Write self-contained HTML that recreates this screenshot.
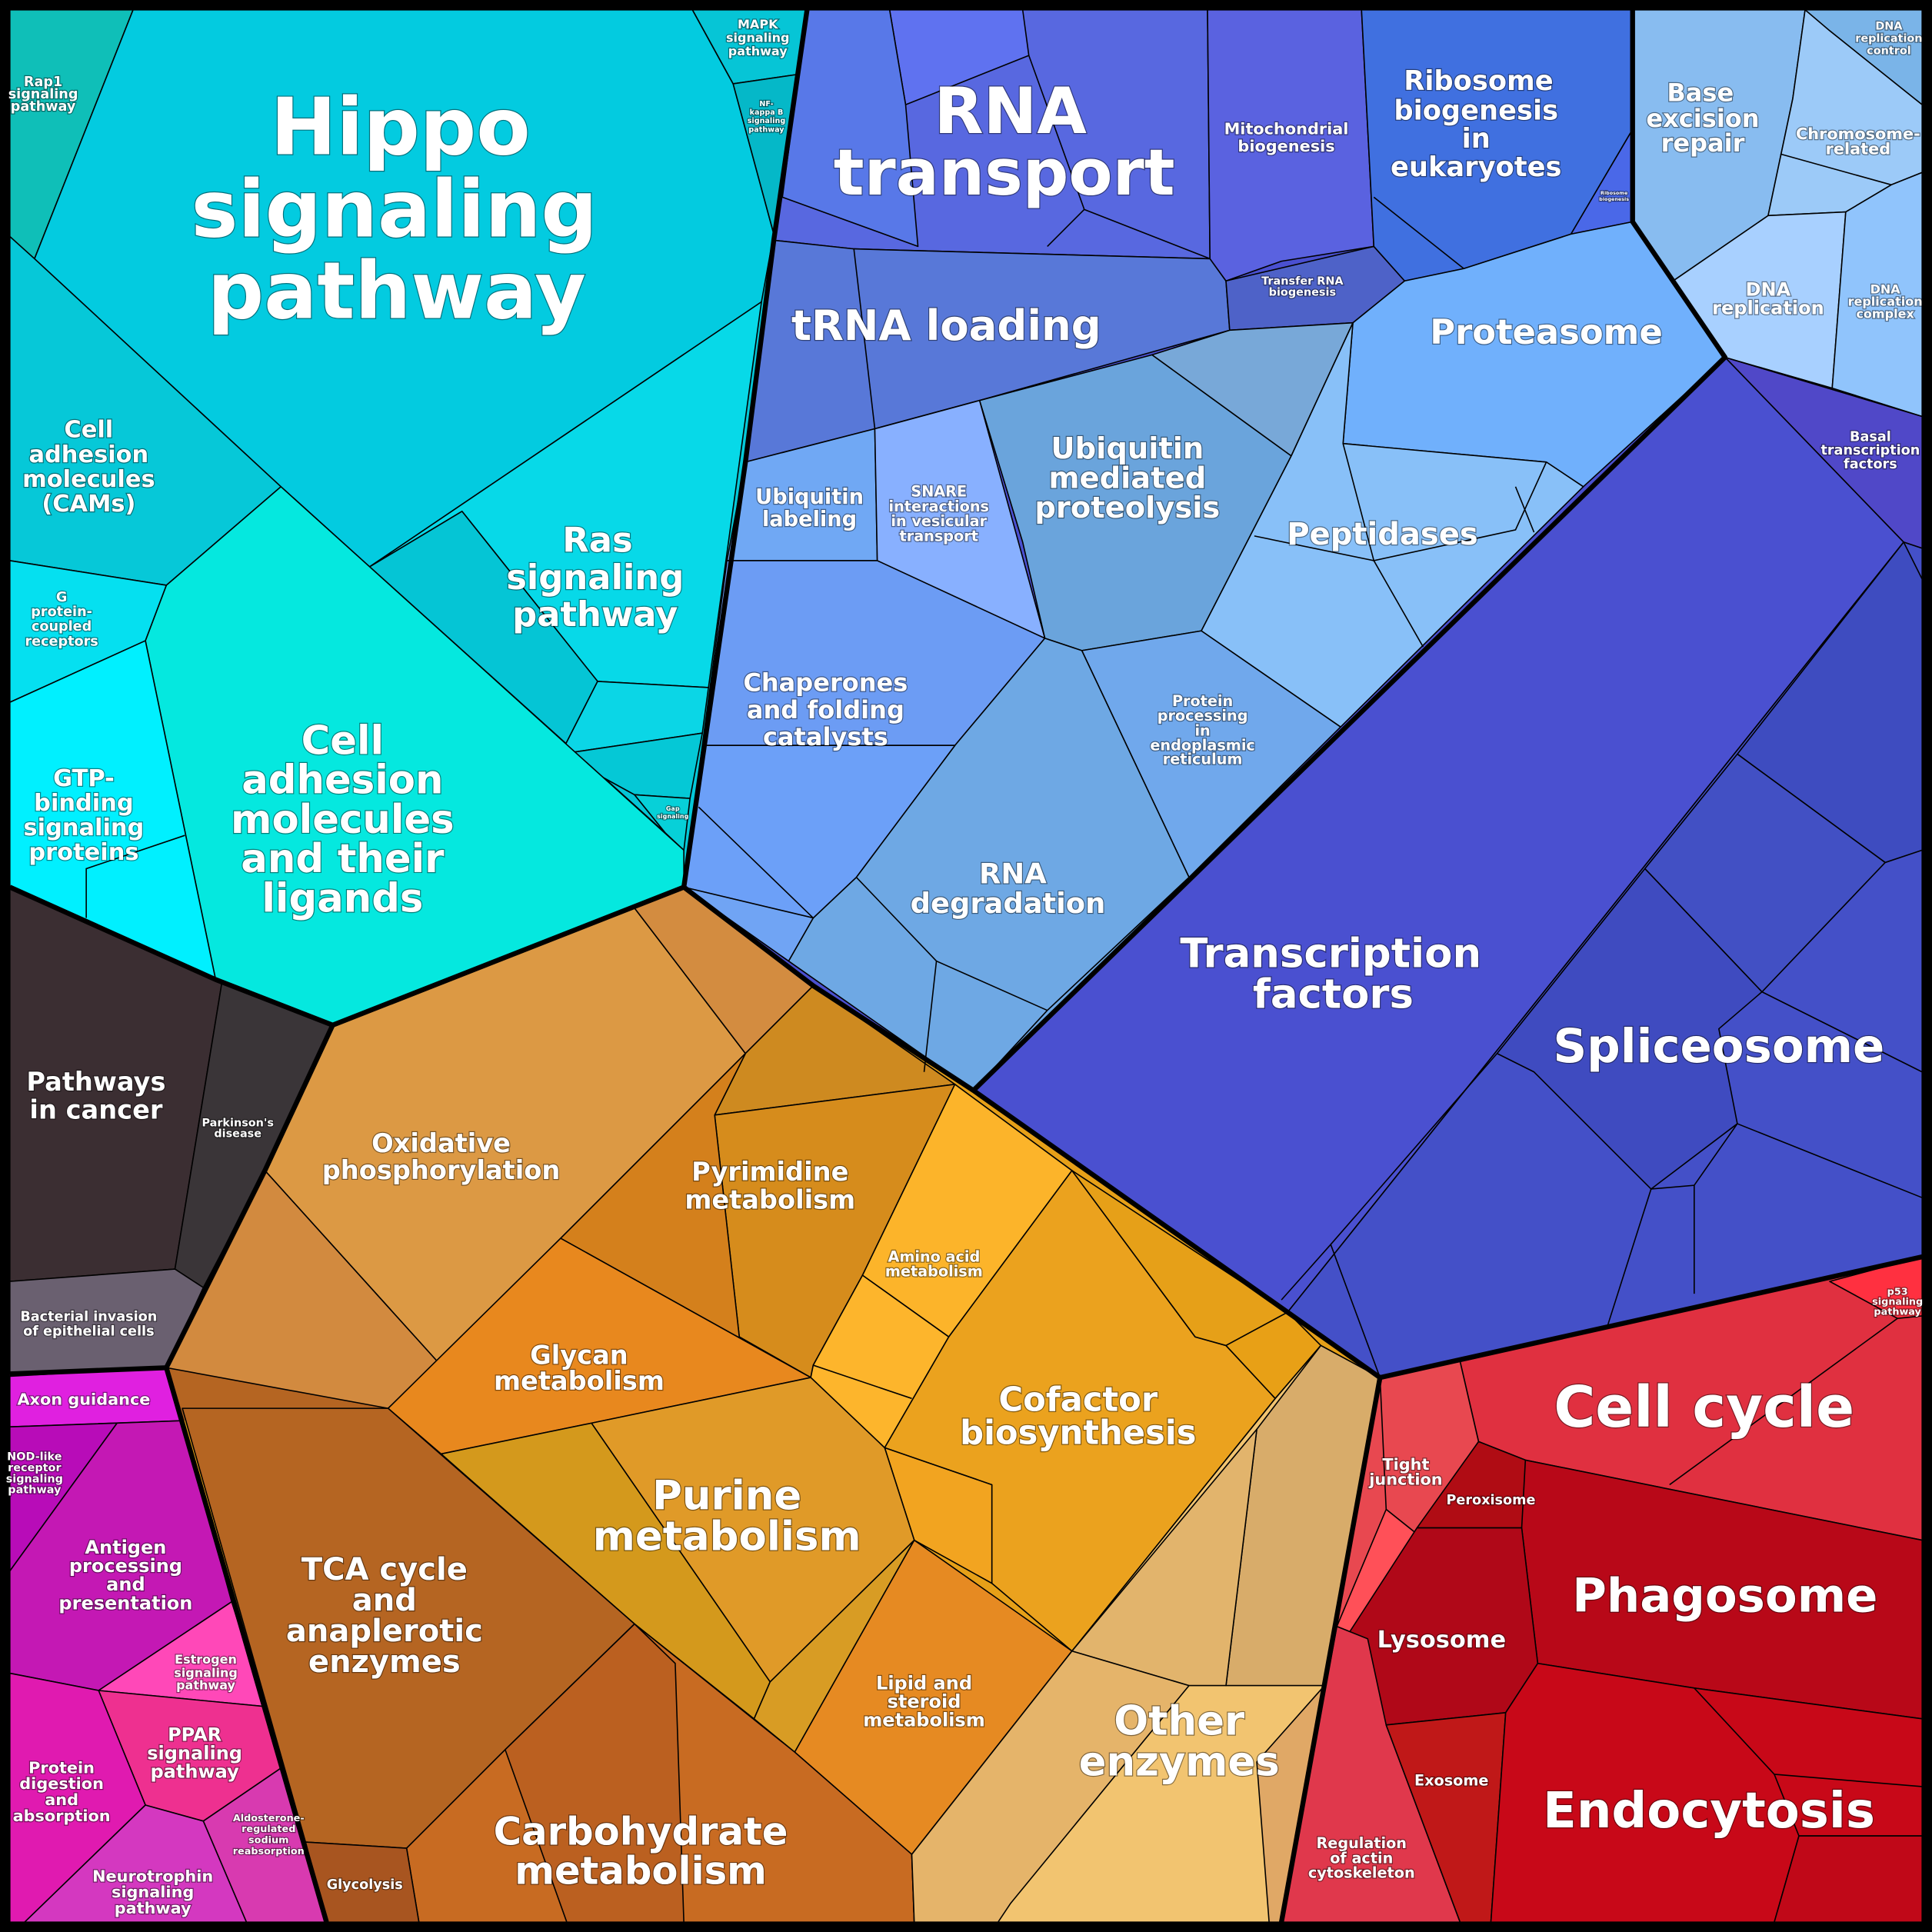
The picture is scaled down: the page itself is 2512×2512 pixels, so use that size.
<!DOCTYPE html>
<html><head><meta charset="utf-8"><style>
html,body{margin:0;padding:0;background:#000;}
svg{display:block;}
text{font-family:"DejaVu Sans","Liberation Sans",sans-serif;font-weight:bold;fill:#fff;text-anchor:middle;paint-order:stroke;stroke:rgba(0,0,0,0.45);stroke-width:1.5px;}
.c{stroke:#000;stroke-width:1;stroke-linejoin:round;}
.l{stroke:#000;stroke-width:1;fill:none;}
.g{fill:none;stroke:#000;stroke-width:4;stroke-linejoin:round;}
</style></head><body>
<svg width="2512" height="2512" viewBox="0 0 1568 1568" xmlns="http://www.w3.org/2000/svg">
<rect x="0" y="0" width="1568" height="1568" fill="#000"/>
<!-- group underlays -->
<polygon fill="#05c8d8" points="8,8 655,8 628,195 605,375 555,720 270,832 175,795 8,720"/>
<polygon fill="#4a50d0" points="655,8 1560,8 1560,1020 1120,1118 1045,1065 790,885 660,800 555,720 605,375 628,195"/>
<polygon fill="#e6a018" points="270,832 555,720 660,800 790,885 1045,1065 1120,1118 1040,1560 265,1560 135,1110 215,950"/>
<polygon fill="#e84850" points="1120,1118 1560,1020 1560,1560 1040,1560"/>
<polygon fill="#3b2e32" points="8,720 175,795 270,832 215,950 135,1110 8,1115"/>
<polygon fill="#c418b4" points="8,1115 135,1110 265,1560 8,1560"/>
<polygon fill="#b56522" points="135,1110 315,1143 148,1153"/>
<polygon fill="#90c4fc" points="1325,180 1355,230 1400,290"/>
<polygon fill="#6ea8e4" points="965,712 850,820 790,885"/>
<!-- CYAN -->
<polygon class="c" fill="#0fbfb8" points="8,8 108,8 28,210 8,192"/>
<polygon class="c" fill="#03cbe0" points="108,8 562,8 595,68 628,190 618,245 300,460 228,395 28,210"/>
<polygon class="c" fill="#06c5d6" points="562,8 655,8 650,60 595,68"/>
<polygon class="c" fill="#05b8c8" points="595,68 650,60 628,190"/>
<polygon class="c" fill="#06c8d8" points="8,192 28,210 228,395 135,475 8,455"/>
<polygon class="c" fill="#07d9e8" points="618,245 575,558 485,553 375,415 300,460"/>
<polygon class="c" fill="#05c5d5" points="300,460 375,415 485,553 455,612 515,645 540,676"/>
<polygon class="c" fill="#0bd6e6" points="485,553 575,558 570,595 455,612"/>
<polygon class="c" fill="#05c8d6" points="455,612 570,595 560,648 515,645"/>
<polygon class="c" fill="#07d0d8" points="515,645 560,648 555,690 540,676"/>
<polygon class="c" fill="#05e8df" points="228,395 300,460 555,690 555,720 270,832 175,795 118,520 135,475"/>
<polygon class="c" fill="#05e0f0" points="8,455 135,475 118,520 8,570"/>
<polygon class="c" fill="#00f0ff" points="8,570 118,520 175,795 8,720"/>
<polyline class="l" points="70,745 70,705 150,678"/>
<!-- DARK -->
<polygon class="c" fill="#3b2e32" points="8,720 180,798 142,1030 8,1040"/>
<polygon class="c" fill="#3a3538" points="180,798 270,832 215,950 165,1045 142,1030"/>
<polygon class="c" fill="#6a6070" points="8,1040 142,1030 165,1045 135,1110 8,1115"/>
<!-- MAGENTA -->
<polygon class="c" fill="#e020e0" points="8,1117 135,1110 148,1153 8,1158"/>
<polygon class="c" fill="#b80cb8" points="8,1158 95,1155 8,1275"/>
<polygon class="c" fill="#c418b4" points="95,1155 148,1153 188,1300 80,1372 8,1358 8,1275"/>
<polygon class="c" fill="#ff48b8" points="188,1300 215,1385 80,1372"/>
<polygon class="c" fill="#ee3090" points="80,1372 215,1385 228,1435 165,1478 118,1465"/>
<polygon class="c" fill="#d83ab0" points="165,1478 228,1435 265,1560 200,1560"/>
<polygon class="c" fill="#e01ab0" points="8,1358 80,1372 118,1465 20,1560 8,1560"/>
<polygon class="c" fill="#d438c0" points="118,1465 165,1478 200,1560 20,1560"/>
<!-- ORANGE -->
<polygon class="c" fill="#dc9944" points="270,832 515,737 605,855 455,1005 355,1105 215,950"/>
<polygon class="c" fill="#d28a3f" points="215,950 355,1105 315,1143 135,1110"/>
<polygon class="c" fill="#d38c40" points="515,737 555,720 660,800 605,855"/>
<polygon class="c" fill="#ce8a20" points="605,855 660,800 775,880 580,905"/>
<polygon class="c" fill="#d68c1c" points="580,905 775,880 700,1035 660,1108 658,1118 600,1085"/>
<polygon class="c" fill="#d4801c" points="455,1005 605,855 580,905 600,1085 658,1118"/>
<polygon class="c" fill="#e8881e" points="455,1005 658,1118 480,1155 358,1180 315,1143"/>
<polygon class="c" fill="#fcb42a" points="775,880 870,950 770,1085 700,1035"/>
<polygon class="c" fill="#fdb52c" points="700,1035 770,1085 718,1175 658,1118 660,1108"/>
<polyline class="l" points="660,1108 740,1135"/>
<polygon class="c" fill="#eba21e" points="870,950 970,1085 995,1092 1035,1135 870,1340 805,1285 805,1205 718,1175 770,1085"/>
<polygon class="c" fill="#e6a018" points="870,950 1045,1065 995,1092 970,1085"/>
<polygon class="c" fill="#e8a016" points="995,1092 1045,1065 1072,1092 1035,1135"/>
<polygon class="c" fill="#f2a420" points="718,1175 805,1205 805,1285 742,1250"/>
<polygon class="c" fill="#e09a28" points="480,1155 658,1118 718,1175 742,1250 625,1365"/>
<polygon class="c" fill="#d4991c" points="358,1180 480,1155 625,1365 612,1395 515,1318"/>
<polygon class="c" fill="#d89c24" points="625,1365 742,1250 645,1422 612,1395"/>
<polygon class="c" fill="#e68a22" points="742,1250 870,1340 740,1505 645,1422"/>
<polygon class="c" fill="#b56522" points="148,1143 315,1143 515,1318 410,1420 330,1500 248,1495"/>
<polygon class="c" fill="#c86b22" points="515,1318 645,1422 740,1505 742,1560 340,1560 330,1500 410,1420"/>
<polygon class="c" fill="#bb6020" points="515,1318 548,1350 555,1560 460,1560 410,1420"/>
<polygon class="c" fill="#a85520" points="248,1495 330,1500 340,1560 265,1560"/>
<polygon class="c" fill="#f2c470" points="1072,1092 1120,1118 1040,1560 742,1560 740,1505 870,1340 1035,1135"/>
<polygon class="c" fill="#d8ac6a" points="1020,1160 1072,1092 1120,1118 1075,1368 995,1368"/>
<polygon class="c" fill="#e2b46c" points="870,1340 1020,1160 995,1368 965,1368"/>
<polygon class="c" fill="#e0a866" points="1020,1430 1075,1368 1040,1560 1030,1560"/>
<polygon class="c" fill="#e5b46a" points="740,1505 870,1340 965,1368 820,1545 810,1560 742,1560"/>
<!-- BLUE -->
<polygon class="c" fill="#5868e0" points="655,8 980,8 982,210 693,202 628,195"/>
<polygon class="c" fill="#5f72f0" points="722,8 830,8 835,45 735,85"/>
<polygon class="c" fill="#5878e8" points="655,8 722,8 735,85 745,200 635,160"/>
<polyline class="l" points="835,45 880,170 982,210"/>
<polyline class="l" points="880,170 850,200"/>
<polygon class="c" fill="#5878d8" points="628,195 693,202 982,210 995,228 998,268 795,325 710,348 605,375"/>
<line class="l" x1="693" y1="202" x2="710" y2="348"/>
<polygon class="c" fill="#5a62e0" points="980,8 1105,8 1115,200 1040,212 995,228 982,210"/>
<polygon class="c" fill="#4e62c8" points="995,228 1115,200 1140,228 1098,262 998,268"/>
<polygon class="c" fill="#4070e0" points="1105,8 1325,8 1325,105 1275,190 1188,218 1140,228 1115,200"/>
<polyline class="l" points="1115,160 1188,218"/>
<polygon class="c" fill="#4a68e8" points="1325,105 1325,180 1275,190"/>
<polygon class="c" fill="#88bcf0" points="1325,8 1465,8 1455,80 1435,175 1355,230 1325,180"/>
<polygon class="c" fill="#7ab4e8" points="1465,8 1560,8 1560,85 1485,25"/>
<polygon class="c" fill="#9ccaf8" points="1465,8 1485,25 1560,85 1560,140 1535,150 1498,172 1435,175 1455,80"/>
<polyline class="l" points="1445,125 1535,150"/>
<polygon class="c" fill="#a8d0ff" points="1355,230 1435,175 1498,172 1487,315 1400,290"/>
<polygon class="c" fill="#90c4fc" points="1498,172 1535,150 1560,140 1560,338 1487,315"/>
<polygon class="c" fill="#70b0fc" points="1098,262 1140,228 1188,218 1275,190 1325,180 1400,290 1285,395 1255,375 1090,360"/>
<polygon class="c" fill="#5048c8" points="1400,290 1560,338 1560,445 1545,440"/>
<polygon class="c" fill="#4a50d0" points="790,885 1400,290 1545,440 1045,1065"/>
<polygon class="c" fill="#4450c8" points="1045,1065 1545,440 1560,445 1560,1020 1120,1118"/>
<polygon class="c" fill="#3e4cc0" points="1410,612 1530,700 1560,690 1560,470 1545,440"/>
<polygon class="c" fill="#4250c4" points="1335,705 1410,612 1530,700 1430,805"/>
<polygon class="c" fill="#3f4bc0" points="1215,855 1335,705 1430,805 1395,835 1410,912 1340,965 1245,870"/>
<polyline class="l" points="1430,805 1560,870"/>
<polyline class="l" points="1410,912 1560,972"/>
<polyline class="l" points="1340,965 1305,1075"/>
<polyline class="l" points="1375,962 1375,1050"/>
<polyline class="l" points="1340,965 1375,962 1410,912"/>
<polyline class="l" points="1040,1055 1080,1010 1120,1118"/>
<polyline class="l" points="1080,1010 1215,855"/>
<polygon class="c" fill="#6aa4dc" points="795,325 935,288 1048,370 975,512 878,528 848,518 830,440"/>
<polygon class="c" fill="#78a8d8" points="935,288 998,268 1098,262 1048,370"/>
<polygon class="c" fill="#88c0f8" points="1098,262 1090,360 1255,375 1285,395 1088,590 975,512 1048,370"/>
<polyline class="l" points="1090,360 1115,455 1230,430 1255,375"/>
<polyline class="l" points="1115,455 1155,525"/>
<polyline class="l" points="1115,455 1018,435"/>
<polyline class="l" points="1230,395 1245,432"/>
<polygon class="c" fill="#70a8ec" points="878,528 975,512 1088,590 965,712"/>
<polygon class="c" fill="#70a8f4" points="605,375 710,348 712,455 590,455"/>
<polygon class="c" fill="#88b0ff" points="710,348 795,325 848,518 760,480 712,455"/>
<polygon class="c" fill="#6c9cf4" points="590,455 712,455 848,518 775,605 570,605"/>
<polygon class="c" fill="#6ea8e4" points="848,518 878,528 965,712 850,820 790,885 640,780 660,745 695,712 775,605"/>
<polyline class="l" points="695,712 760,780 850,820"/>
<polyline class="l" points="760,780 750,870"/>
<polygon class="c" fill="#6ca0f8" points="570,605 775,605 695,712 660,745 555,720"/>
<polyline class="l" points="567,655 660,745"/>
<polygon class="c" fill="#70a4f4" points="555,720 660,745 640,780"/>
<!-- RED -->
<polygon class="c" fill="#e03040" points="1185,1105 1560,1020 1560,1250 1238,1185 1200,1170"/>
<polyline class="l" points="1355,1205 1540,1070"/>
<polygon class="c" fill="#ff3040" points="1485,1040 1560,1020 1560,1068 1540,1070"/>
<polygon class="c" fill="#e84850" points="1120,1118 1185,1105 1200,1170 1150,1245 1125,1225"/>
<polygon class="c" fill="#ff5058" points="1125,1225 1150,1245 1110,1330 1085,1320"/>
<polygon class="c" fill="#b00c14" points="1200,1170 1238,1185 1245,1215 1235,1240 1150,1240"/>
<polygon class="c" fill="#b80818" points="1238,1185 1560,1250 1560,1395 1375,1370 1248,1350 1235,1240"/>
<polygon class="c" fill="#b00818" points="1150,1240 1235,1240 1248,1350 1222,1390 1125,1400 1095,1325"/>
<polygon class="c" fill="#e0384c" points="1085,1320 1110,1330 1125,1400 1185,1560 1040,1560"/>
<polygon class="c" fill="#c01818" points="1125,1400 1222,1390 1210,1560 1185,1560"/>
<polygon class="c" fill="#c80818" points="1222,1390 1248,1350 1375,1370 1560,1395 1560,1490 1460,1490 1440,1560 1210,1560"/>
<polyline class="l" points="1375,1370 1440,1440 1560,1450"/>
<polyline class="l" points="1440,1440 1460,1490"/>
<polygon class="c" fill="#c00818" points="1460,1490 1560,1490 1560,1560 1440,1560"/>
<!-- GROUP BORDERS -->
<polyline class="g" points="655,8 628,195 605,375 555,720 270,832 175,795 8,720"/>
<polyline class="g" points="555,720 660,800 790,885 1045,1065 1120,1118 1560,1020"/>
<polyline class="g" points="1120,1118 1040,1560"/>
<polyline class="g" points="270,832 215,950 135,1110 8,1115"/>
<polyline class="g" points="135,1110 265,1560"/>
<polyline class="g" points="790,885 1400,290 1325,180 1325,8"/>
<rect x="4" y="4" width="1560" height="1560" fill="none" stroke="#000" stroke-width="8"/>
<!-- LABELS -->
<g font-size="64"><text x="325" y="125">Hippo</text><text x="320" y="192">signaling</text><text x="322" y="258">pathway</text></g>
<g font-size="11"><text x="35" y="70">Rap1</text><text x="35" y="80">signaling</text><text x="35" y="90">pathway</text></g>
<g font-size="10"><text x="615" y="23">MAPK</text><text x="615" y="34">signaling</text><text x="615" y="45">pathway</text></g>
<g font-size="6"><text x="622" y="86">NF-</text><text x="622" y="93">kappa B</text><text x="622" y="100">signaling</text><text x="622" y="107">pathway</text></g>
<g font-size="19"><text x="72" y="355">Cell</text><text x="72" y="375">adhesion</text><text x="72" y="395">molecules</text><text x="72" y="415">(CAMs)</text></g>
<g font-size="28"><text x="485" y="448">Ras</text><text x="483" y="478">signaling</text><text x="483" y="508">pathway</text></g>
<g font-size="11"><text x="50" y="488">G</text><text x="50" y="500">protein-</text><text x="50" y="512">coupled</text><text x="50" y="524">receptors</text></g>
<g font-size="19"><text x="68" y="638">GTP-</text><text x="68" y="658">binding</text><text x="68" y="678">signaling</text><text x="68" y="698">proteins</text></g>
<g font-size="32"><text x="278" y="612">Cell</text><text x="278" y="644">adhesion</text><text x="278" y="676">molecules</text><text x="278" y="708">and their</text><text x="278" y="740">ligands</text></g>
<g font-size="5"><text x="546" y="658">Gap</text><text x="546" y="664">signaling</text></g>
<g font-size="21"><text x="78" y="885">Pathways</text><text x="78" y="908">in cancer</text></g>
<g font-size="9"><text x="193" y="914">Parkinson's</text><text x="193" y="923">disease</text></g>
<g font-size="11"><text x="72" y="1072">Bacterial invasion</text><text x="72" y="1084">of epithelial cells</text></g>
<text x="68" y="1140" font-size="13">Axon guidance</text>
<g font-size="9"><text x="28" y="1185">NOD-like</text><text x="28" y="1194">receptor</text><text x="28" y="1203">signaling</text><text x="28" y="1212">pathway</text></g>
<g font-size="15"><text x="102" y="1261">Antigen</text><text x="102" y="1276">processing</text><text x="102" y="1291">and</text><text x="102" y="1306">presentation</text></g>
<g font-size="10"><text x="167" y="1350">Estrogen</text><text x="167" y="1361">signaling</text><text x="167" y="1371">pathway</text></g>
<g font-size="15"><text x="158" y="1413">PPAR</text><text x="158" y="1428">signaling</text><text x="158" y="1443">pathway</text></g>
<g font-size="8"><text x="218" y="1478">Aldosterone-</text><text x="218" y="1487">regulated</text><text x="218" y="1496">sodium</text><text x="218" y="1505">reabsorption</text></g>
<g font-size="13"><text x="50" y="1439">Protein</text><text x="50" y="1452">digestion</text><text x="50" y="1465">and</text><text x="50" y="1478">absorption</text></g>
<g font-size="13"><text x="124" y="1527">Neurotrophin</text><text x="124" y="1540">signaling</text><text x="124" y="1553">pathway</text></g>
<g font-size="21"><text x="358" y="935">Oxidative</text><text x="358" y="957">phosphorylation</text></g>
<g font-size="21"><text x="625" y="958">Pyrimidine</text><text x="625" y="981">metabolism</text></g>
<g font-size="12"><text x="758" y="1024">Amino acid</text><text x="758" y="1036">metabolism</text></g>
<g font-size="21"><text x="470" y="1107">Glycan</text><text x="470" y="1128">metabolism</text></g>
<g font-size="27"><text x="875" y="1145">Cofactor</text><text x="875" y="1172">biosynthesis</text></g>
<g font-size="33"><text x="590" y="1225">Purine</text><text x="590" y="1258">metabolism</text></g>
<g font-size="25"><text x="312" y="1282">TCA cycle</text><text x="312" y="1307">and</text><text x="312" y="1332">anaplerotic</text><text x="312" y="1357">enzymes</text></g>
<g font-size="15"><text x="750" y="1371">Lipid and</text><text x="750" y="1386">steroid</text><text x="750" y="1401">metabolism</text></g>
<g font-size="33"><text x="957" y="1408">Other</text><text x="957" y="1441">enzymes</text></g>
<g font-size="31"><text x="520" y="1497">Carbohydrate</text><text x="520" y="1529">metabolism</text></g>
<text x="296" y="1533" font-size="11">Glycolysis</text>
<g font-size="52"><text x="820" y="108">RNA</text><text x="815" y="158">transport</text></g>
<g font-size="13"><text x="1044" y="109">Mitochondrial</text><text x="1044" y="123">biogenesis</text></g>
<g font-size="22"><text x="1200" y="73">Ribosome</text><text x="1198" y="97">biogenesis</text><text x="1198" y="120">in</text><text x="1198" y="143">eukaryotes</text></g>
<g font-size="4"><text x="1310" y="158">Ribosome</text><text x="1310" y="163">biogenesis</text></g>
<g font-size="9"><text x="1057" y="231">Transfer RNA</text><text x="1057" y="240">biogenesis</text></g>
<g font-size="20"><text x="1380" y="82">Base</text><text x="1382" y="103">excision</text><text x="1382" y="123">repair</text></g>
<g font-size="9"><text x="1533" y="24">DNA</text><text x="1533" y="34">replication</text><text x="1533" y="44">control</text></g>
<g font-size="13"><text x="1508" y="113">Chromosome-</text><text x="1508" y="125">related</text></g>
<g font-size="15"><text x="1435" y="240">DNA</text><text x="1435" y="255">replication</text></g>
<g font-size="10"><text x="1530" y="238">DNA</text><text x="1530" y="248">replication</text><text x="1530" y="258">complex</text></g>
<text x="768" y="276" font-size="34">tRNA loading</text>
<text x="1255" y="279" font-size="28">Proteasome</text>
<g font-size="11"><text x="1518" y="358">Basal</text><text x="1518" y="369">transcription</text><text x="1518" y="380">factors</text></g>
<g font-size="17"><text x="657" y="409">Ubiquitin</text><text x="657" y="427">labeling</text></g>
<g font-size="12"><text x="762" y="403">SNARE</text><text x="762" y="415">interactions</text><text x="762" y="427">in vesicular</text><text x="762" y="439">transport</text></g>
<g font-size="24"><text x="915" y="372">Ubiquitin</text><text x="915" y="396">mediated</text><text x="915" y="420">proteolysis</text></g>
<text x="1122" y="442" font-size="25">Peptidases</text>
<g font-size="20"><text x="670" y="561">Chaperones</text><text x="670" y="583">and folding</text><text x="670" y="605">catalysts</text></g>
<g font-size="12"><text x="976" y="573">Protein</text><text x="976" y="585">processing</text><text x="976" y="597">in</text><text x="976" y="609">endoplasmic</text><text x="976" y="620">reticulum</text></g>
<g font-size="23"><text x="822" y="717">RNA</text><text x="818" y="741">degradation</text></g>
<g font-size="33"><text x="1080" y="785">Transcription</text><text x="1082" y="818">factors</text></g>
<text x="1395" y="862" font-size="38">Spliceosome</text>
<text x="1383" y="1158" font-size="46">Cell cycle</text>
<g font-size="8"><text x="1540" y="1051">p53</text><text x="1540" y="1059">signaling</text><text x="1540" y="1067">pathway</text></g>
<g font-size="13"><text x="1141" y="1193">Tight</text><text x="1141" y="1205">junction</text></g>
<text x="1210" y="1221" font-size="11">Peroxisome</text>
<text x="1400" y="1308" font-size="38">Phagosome</text>
<text x="1170" y="1337" font-size="19">Lysosome</text>
<text x="1178" y="1449" font-size="12">Exosome</text>
<text x="1387" y="1483" font-size="40">Endocytosis</text>
<g font-size="12"><text x="1105" y="1500">Regulation</text><text x="1105" y="1512">of actin</text><text x="1105" y="1524">cytoskeleton</text></g>
</svg>
</body></html>
